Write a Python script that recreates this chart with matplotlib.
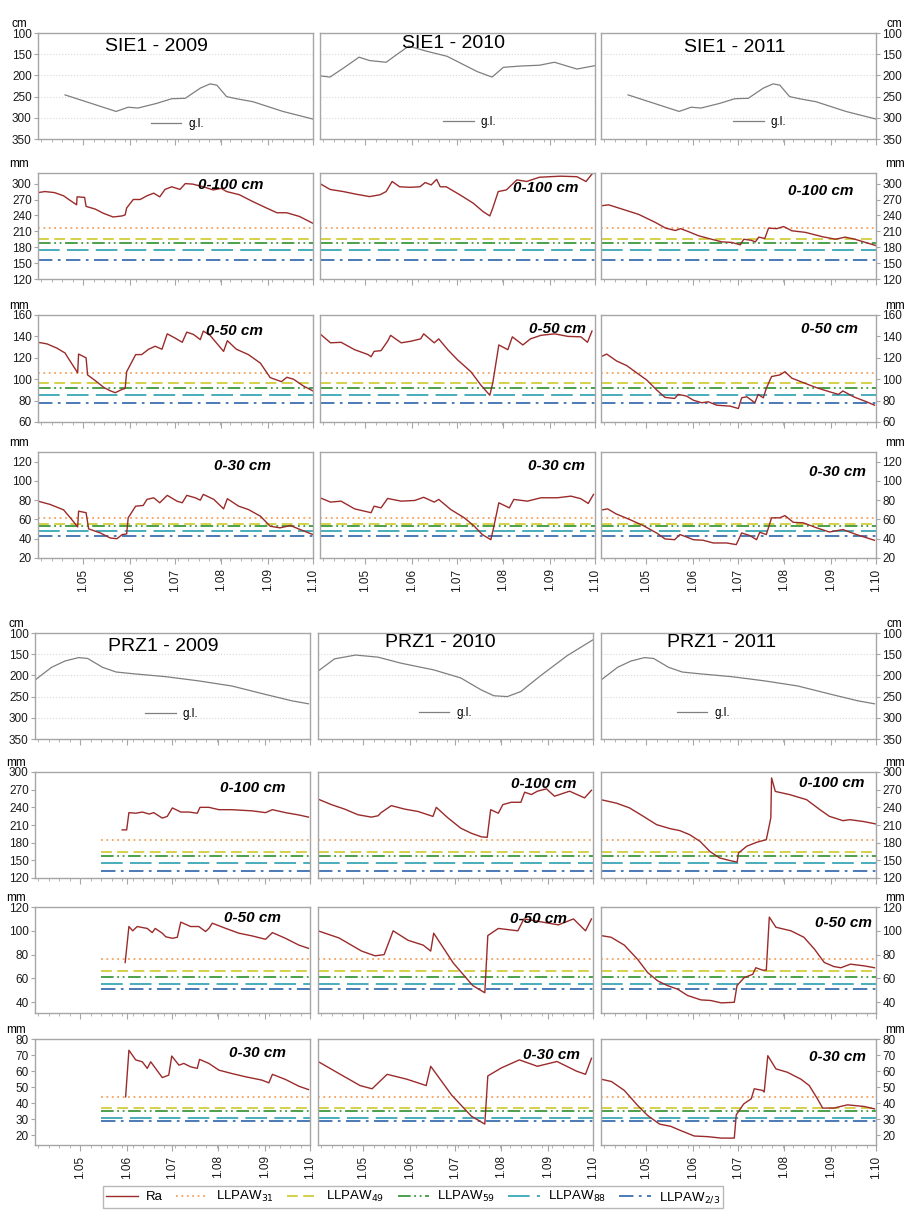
import numpy as np
import matplotlib.pyplot as plt
from matplotlib.lines import Line2D
from matplotlib.ticker import FixedLocator, NullFormatter

plt.rcParams['font.family'] = ['Liberation Sans', 'DejaVu Sans']

# x axis = days counted from 1 April
month_days = [30, 61, 91, 122, 153, 183]
month_labels = ['1.05', '1.06', '1.07', '1.08', '1.09', '1.10']
x_end = 183

# ---------------- ground water level (cm) ----------------
sie_gl_a_day = [18, 52, 60, 66.5, 79, 89, 98, 108, 114.5, 119, 125.5, 132, 143, 163, 183]
sie_gl_a = [246, 285, 275, 277, 266, 255, 254, 230, 220, 223, 250, 255, 262, 285, 303]
sie_gl_2010_day = [0, 6.6, 15.5, 26, 33, 44, 51, 59, 71, 84.6, 95.7, 104.6, 114.5, 122, 133, 146, 156, 171, 183]
sie_gl_2010 = [201, 204, 183, 157, 165, 169, 151, 131, 143, 155, 175, 191, 204, 181, 178, 176, 169, 185, 177]
prz_gl_a_day = [0, 11, 20, 29, 35, 45, 54, 65, 87, 109, 131, 153.5, 171, 182]
prz_gl_a = [211, 181, 166, 158, 160, 181, 192, 196, 203, 213, 225, 245, 260, 267]
prz_gl_2010_day = [0, 11, 25, 40, 55, 77, 95, 108.5, 117, 126, 135, 148, 166, 183]
prz_gl_2010 = [190, 161, 152, 157, 171, 187, 206, 234, 248, 250, 238, 201, 153, 116]

# ---------------- threshold levels (mm): LLPAW31, 49, 59, 88, 2/3 ----------------
thr_sie_100 = [216, 195, 188, 175, 155]
thr_sie_50 = [106, 96, 92, 85, 78]
thr_sie_30 = [62, 55, 53, 48, 43]
thr_prz_100 = [184, 165, 158, 145, 132]
thr_prz_50 = [76, 66, 61, 55, 51]
thr_prz_30 = [44, 37, 35, 31, 29]

# ---------------- Ra (mm) SIE1 ----------------
sie09_100_day = [0, 4.6, 11, 17, 21, 25.7, 26, 31, 32, 38, 43.5, 50, 56, 58, 59, 63.4, 68, 72.5, 77, 81, 84.5, 89,
                 94.5, 98, 103, 110, 116.6, 122, 125.5, 134, 143, 152, 159, 165.5, 174, 183]
sie09_100 = [283, 285, 283, 277, 269, 260, 275, 274, 257, 252, 244, 237, 239, 241, 254, 270, 270, 277, 282, 275, 289, 294,
             289, 300, 299, 294, 288, 291, 285, 279, 266, 254, 245, 245, 238, 225]
sie09_50_day = [0, 6, 12.6, 18, 21.5, 26.4, 27, 32, 33, 39, 43.7, 48, 51.4, 56, 58, 59, 65, 69, 73.6, 78, 82.5, 86, 91,
                96, 99, 103.5, 108, 110, 114.6, 123.5, 126, 132, 140, 148, 154.5, 162, 165.6, 170, 176.7, 183]
sie09_50 = [134.5, 133, 129, 124.5, 116.6, 106, 123.5, 120, 104, 97.7, 92.4, 89.2, 87.4, 90.5, 91.4, 107, 123, 123, 128,
            130.8, 128, 142.4, 138.6, 134.5, 144, 141.8, 137, 145, 140.8, 126, 136, 128, 123, 115, 101.5, 97.7, 101.8,
            100, 93.6, 89]
sie09_30_day = [0, 8, 17, 21.5, 26.4, 27, 32, 33.7, 41.5, 48, 52.5, 56, 59, 60, 65, 70, 72.5, 77, 81, 86, 92.5, 96, 99,
                104.6, 108, 110, 117, 123.5, 126, 133.5, 140, 148, 154.5, 161, 168, 174.5, 183]
sie09_30 = [79, 75.6, 70, 61.7, 52.3, 68.6, 67, 50.2, 46, 40.8, 40, 44.3, 45, 61.7, 73.8, 74.5, 80.8, 82.5, 77.3, 85, 79,
            77.3, 85, 82.5, 80, 86, 80.8, 71, 81.5, 73.8, 70.3, 63.4, 53, 51.3, 53.7, 49.5, 44.3]

sie10_100_day = [0, 6.7, 15.5, 24, 33, 40, 44, 48, 53, 60, 66.5, 70, 74, 77.6, 80, 84, 93, 102, 108.6, 113, 115, 118.6,
                 124, 131, 137.5, 146, 160, 171, 177, 181]
sie10_100 = [300, 289, 285, 280, 275.5, 279, 285, 304, 294, 293, 294, 302, 297.5, 308, 294, 294, 279, 263, 247, 239,
             254, 285, 288, 307, 304, 312, 314, 313, 304, 318]
sie10_50_day = [0, 7, 14, 23, 32, 34, 36, 40.6, 45, 47, 54, 60.5, 67, 69, 76, 79, 85, 91.6, 100.4, 107, 113, 115, 119,
                125, 128, 135, 140, 147, 156, 165, 173.6, 178, 181]
sie10_50 = [142.4, 134, 134.5, 127.6, 123, 121, 126, 126.7, 135.5, 141, 134, 135.5, 137.7, 142.4, 134, 137.7, 127.6,
            118, 107, 94.6, 85, 96.8, 132, 127.6, 139.6, 132, 137.7, 141, 142.4, 140, 139.6, 134.5, 145]
sie10_30_day = [0, 7, 14, 23, 34, 36, 40.6, 45, 54, 63, 69, 76, 79, 87, 96, 102.7, 108, 113.7, 115.5, 119, 126, 129, 138,
                147, 158, 167, 173.6, 178.5, 182]
sie10_30 = [82.5, 78, 79, 71, 67, 73.8, 72, 81.8, 79, 79.7, 83, 78, 80.8, 70.3, 61.7, 53, 44.3, 39, 51.3, 77.3, 72, 80.8,
            79, 82.5, 82.5, 84.2, 81.5, 76.6, 86]

sie11_100_day = [0, 5, 11.7, 25, 36, 43, 49.5, 53, 58, 65, 71.6, 80.5, 87, 92.7, 95, 100, 102.7, 105, 109, 111.5, 117,
                 121.5, 127, 136, 147, 156, 162.5, 169, 183]
sie11_100 = [258, 260, 254, 242, 227, 216, 211.5, 215, 209.6, 201.5, 196.5, 190, 189, 184.5, 195, 193, 190, 199, 196.5,
             216, 215, 219, 211, 208, 200, 195, 199, 195, 183]
sie11_50_day = [0, 3.8, 10.4, 17, 23.7, 30.4, 37, 42.6, 49, 51.4, 57, 61.4, 67, 71.4, 77, 86, 91.4, 93.6, 97, 102.4,
                104.6, 108, 110, 113.5, 119, 122.4, 127, 134.6, 143.5, 152, 158, 161, 168, 176.7, 182]
sie11_50 = [121, 123.5, 117, 112.8, 106, 99.3, 90, 83, 82, 85.8, 84.2, 80.4, 78, 78.9, 75.7, 74.8, 72.6, 82.6, 83.6, 78,
            85.8, 82.6, 91.4, 102.5, 104, 107, 101, 96.8, 92, 88.3, 85.8, 89, 83.6, 78.9, 75.7]
sie11_30_day = [0, 4.4, 10, 19, 28, 37, 42.6, 49, 52.5, 57, 61.4, 68, 74.7, 83.6, 90, 93.6, 99, 103.5, 105.7, 110,
                113.5, 119, 122.4, 128, 134.6, 143.5, 152, 161, 170, 182]
sie11_30 = [69.7, 71, 65.8, 60, 53.7, 46, 39.8, 39, 44.3, 41.8, 39, 38.4, 35.6, 35.6, 33.9, 46, 43.3, 39, 46.7, 44.3,
            61.7, 61.7, 64, 57, 56.5, 51.3, 47, 49.5, 44.3, 38.4]

# ---------------- Ra (mm) PRZ1 ----------------
prz09_100_day = [58, 61, 62.5, 67, 71.4, 76, 79, 84.7, 88, 91.4, 97, 102.4, 108, 109.8, 115.7, 122.4, 131, 144.6,
                 153.4, 158, 166.7, 175.6, 182]
prz09_100 = [201.7, 201.7, 231, 230, 232, 228.6, 231, 221.7, 224.6, 239, 232, 232, 230, 240, 240, 236, 236, 234, 231,
             236, 231, 227, 223.4]
prz09_50_day = [60, 62.5, 65, 68, 74.7, 78, 80, 84.7, 87, 91.4, 94.7, 97, 103.5, 109, 113.5, 115.7, 118, 127, 135.7,
                144.6, 153.4, 158, 166.7, 175.6, 182]
prz09_50 = [73.4, 103.6, 100, 103.6, 102, 98.5, 102, 98, 95, 93.7, 94.6, 107.3, 103.6, 103.6, 99.4, 102, 106.4, 102,
            98, 95.7, 92.9, 98.5, 93.7, 88, 85.3]
prz09_30_day = [60.3, 62.5, 67, 71.4, 74.7, 77, 84.7, 89, 91, 95.8, 99, 103.5, 108, 109.5, 115.7, 122.4, 131, 140, 151,
                155.6, 158, 166.7, 175.6, 182]
prz09_30 = [44, 73, 67, 65.8, 61.7, 65.8, 56, 57.5, 69.4, 63.7, 64.8, 62.7, 61.7, 67.3, 64.8, 60.6, 58.5, 56.5, 54.4,
            52.7, 58, 54.8, 50.6, 48.5]

prz10_100_day = [0, 8.9, 17.7, 26.6, 35.5, 40, 42, 48.8, 57.6, 66.5, 76.5, 78.7, 86.5, 95, 102, 108.6, 112.6, 114.9,
                 120, 123, 128.6, 135, 137.5, 142, 146, 152, 157.4, 167.4, 177.4, 182]
prz10_100 = [254, 244.6, 237, 227.4, 223.4, 225.7, 231, 242.9, 237, 233, 224.6, 240, 222, 204.6, 196, 190, 189, 236,
             230, 244.6, 248.6, 248.6, 265.7, 261.7, 267.4, 271.4, 258.9, 267.4, 256, 269]
prz10_50_day = [0, 14, 29, 38, 44, 50, 60, 70, 75, 77, 90, 103, 111, 113, 120, 133, 137, 160, 170, 178, 182]
prz10_50 = [100, 94, 83, 79, 80, 100, 92, 88, 83, 98, 73, 54, 48, 96, 102, 100, 110, 105, 110, 100, 110]
prz10_30_day = [0, 13, 28, 36, 46, 59, 72, 75, 89, 102, 111, 113, 122, 134, 146, 159, 172, 178, 182]
prz10_30 = [66, 59, 51, 49, 58, 55, 51, 63, 45, 32, 27, 57, 62, 67, 63, 66, 60, 58, 68]

prz11_100_day = [0, 10.4, 19, 28, 37, 46, 52.5, 59, 66, 72.5, 79, 86, 90.6, 91.5, 97, 104, 110, 113, 113.5, 116, 125.7,
                 136.8, 145.7, 152, 161, 165.6, 174.5, 183]
prz11_100 = [253, 247, 239, 225, 210.6, 203.8, 200.4, 193.6, 182, 165, 154, 149.5, 147, 162.5, 174, 181, 185, 222, 290,
             267, 261.5, 253, 236, 224.7, 217.4, 219, 216, 211.7]
prz11_50_day = [0, 6.7, 15.5, 24.4, 31, 37.7, 44.3, 51, 57.6, 66.5, 73, 80, 88.7, 90.5, 95.3, 101, 103, 107.5, 110,
                112, 116.4, 126.4, 135, 142, 148.6, 155, 159.6, 166, 175, 182]
prz11_50 = [96, 94.6, 88, 76, 65, 58, 54, 51, 45.7, 42, 41.5, 39.5, 40, 54, 60.7, 63.5, 69, 67, 67, 111.5, 103, 100,
            94.6, 84.7, 73.4, 70, 69, 72, 70.6, 69]
prz11_30_day = [0, 7, 15.5, 24.4, 31, 39, 46.5, 53, 62, 71, 80, 88.7, 90, 95, 100, 102, 107.5, 108.6, 111, 116.4, 124,
                133, 138.6, 144, 147.5, 155, 164, 175, 182]
prz11_30 = [55, 53.5, 48, 38.6, 32.4, 27, 25.6, 23, 19.6, 19.2, 18.3, 18.3, 32.8, 39.6, 42.8, 49, 48, 47, 69.6, 61.4,
            59.3, 55, 51, 42.8, 37, 37, 39, 38, 36.5]

# ---------------- styles ----------------
ra_color = '#9b2b2b'
gl_color = '#7f7f7f'
frame_color = '#a6a6a6'
thr_names = [r'LLPAW$_{31}$', r'LLPAW$_{49}$', r'LLPAW$_{59}$', r'LLPAW$_{88}$', r'LLPAW$_{2/3}$']
thr_colors = ['#f4a35c', '#d2cd3c', '#3d9a3d', '#3aa7b5', '#3d6fb0']
thr_styles = [(0, (1, 2)), (0, (6, 3)), (0, (7, 2, 1, 2, 1, 2)), (0, (12, 4)), (0, (8, 3, 1.5, 3))]

W, H = 908, 1212
fig = plt.figure(figsize=(W / 100, H / 100), dpi=100)


def add_panel(left, top, bottom, width=275):
    return fig.add_axes([left / W, 1 - bottom / H, width / W, (bottom - top) / H])


def style_axes(ax, col, yticks, ylim, unit, show_x=False):
    for s in ax.spines.values():
        s.set_color(frame_color)
        s.set_linewidth(1)
    ax.set_xlim(0, x_end)
    ax.set_ylim(*ylim)
    ax.xaxis.set_major_locator(FixedLocator(month_days))
    ax.xaxis.set_minor_locator(FixedLocator(list(range(2, x_end, 7))))
    ax.tick_params(axis='x', which='major', length=4, color=frame_color, direction='out')
    ax.tick_params(axis='x', which='minor', length=2.5, color=frame_color, direction='out')
    if show_x:
        ax.set_xticklabels(month_labels, rotation=90, fontsize=8.5, color='#1a1a1a')
    else:
        ax.xaxis.set_major_formatter(NullFormatter())
    ax.yaxis.set_major_locator(FixedLocator(yticks))
    ax.tick_params(axis='y', length=3, color=frame_color, labelsize=8.5, labelcolor='#1a1a1a', pad=1.5)
    if col == 0:
        ax.text(-0.068, 1.025, unit, transform=ax.transAxes, ha='center', va='bottom', fontsize=8.5)
    elif col == 2:
        ax.yaxis.tick_right()
        ax.text(1.068, 1.025, unit, transform=ax.transAxes, ha='center', va='bottom', fontsize=8.5)
    else:
        ax.tick_params(axis='y', left=False, labelleft=False)


def gl_panel(ax, col, day, gl, title, tpos, lpos):
    ax.yaxis.grid(True, linestyle=':', color='#d9d9d9', linewidth=0.8)
    line, = ax.plot(day, gl, color=gl_color, linewidth=0.9)
    style_axes(ax, col, [100, 150, 200, 250, 300, 350], (350, 100), 'cm')
    ax.text(tpos[0], tpos[1], title, transform=ax.transAxes, ha='center', va='center', fontsize=14)
    ax.legend([line], ['g.l.'], loc='center left', bbox_to_anchor=lpos, frameon=False,
              fontsize=8.5, handlelength=2.6, borderpad=0, borderaxespad=0, handletextpad=0.6)


def ra_panel(ax, col, day, ra, thr, label, lpos, yticks, ylim, thr_start=0, show_x=False):
    for k in range(5):
        ax.plot([thr_start, x_end], [thr[k], thr[k]], color=thr_colors[k], linestyle=thr_styles[k], linewidth=1.3)
    ax.plot(day, ra, color=ra_color, linewidth=1.0)
    style_axes(ax, col, yticks, ylim, 'mm', show_x)
    ax.text(lpos[0], lpos[1], label, transform=ax.transAxes, ha='center', va='center',
            fontsize=11, fontweight='bold', fontstyle='italic')


# ---------------- SIE1 block ----------------
lefts = [38, 320, 601]
gl_rows = [(sie_gl_a_day, sie_gl_a), (sie_gl_2010_day, sie_gl_2010), (sie_gl_a_day, sie_gl_a)]
titles = ['SIE1 - 2009', 'SIE1 - 2010', 'SIE1 - 2011']
tpos = [(0.43, 0.87), (0.487, 0.905), (0.487, 0.86)]
lpos = [(0.41, 0.14), (0.447, 0.16), (0.48, 0.16)]
for c in range(3):
    ax = add_panel(lefts[c], 33, 139)
    gl_panel(ax, c, gl_rows[c][0], gl_rows[c][1], titles[c], tpos[c], lpos[c])

sie_100 = [(sie09_100_day, sie09_100), (sie10_100_day, sie10_100), (sie11_100_day, sie11_100)]
sie_50 = [(sie09_50_day, sie09_50), (sie10_50_day, sie10_50), (sie11_50_day, sie11_50)]
sie_30 = [(sie09_30_day, sie09_30), (sie10_30_day, sie10_30), (sie11_30_day, sie11_30)]
p100 = [(0.70, 0.89), (0.82, 0.86), (0.80, 0.83)]
p50 = [(0.715, 0.85), (0.865, 0.87), (0.83, 0.87)]
p30 = [(0.745, 0.87), (0.86, 0.87), (0.86, 0.81)]
for c in range(3):
    ax = add_panel(lefts[c], 173, 279)
    ra_panel(ax, c, sie_100[c][0], sie_100[c][1], thr_sie_100, '0-100 cm', p100[c],
             [120, 150, 180, 210, 240, 270, 300], (120, 320))
    ax = add_panel(lefts[c], 315, 422)
    ra_panel(ax, c, sie_50[c][0], sie_50[c][1], thr_sie_50, '0-50 cm', p50[c],
             [60, 80, 100, 120, 140, 160], (60, 160))
    ax = add_panel(lefts[c], 452, 558)
    ra_panel(ax, c, sie_30[c][0], sie_30[c][1], thr_sie_30, '0-30 cm', p30[c],
             [20, 40, 60, 80, 100, 120], (20, 130), show_x=True)

# ---------------- PRZ1 block ----------------
lefts = [35, 318, 601]
gl_rows = [(prz_gl_a_day, prz_gl_a), (prz_gl_2010_day, prz_gl_2010), (prz_gl_a_day, prz_gl_a)]
titles = ['PRZ1 - 2009', 'PRZ1 - 2010', 'PRZ1 - 2011']
tpos = [(0.467, 0.877), (0.446, 0.906), (0.44, 0.906)]
lpos = [(0.40, 0.236), (0.366, 0.245), (0.275, 0.245)]
for c in range(3):
    ax = add_panel(lefts[c], 633, 739)
    gl_panel(ax, c, gl_rows[c][0], gl_rows[c][1], titles[c], tpos[c], lpos[c])

prz_100 = [(prz09_100_day, prz09_100), (prz10_100_day, prz10_100), (prz11_100_day, prz11_100)]
prz_50 = [(prz09_50_day, prz09_50), (prz10_50_day, prz10_50), (prz11_50_day, prz11_50)]
prz_30 = [(prz09_30_day, prz09_30), (prz10_30_day, prz10_30), (prz11_30_day, prz11_30)]
thr_first = [44, 0, 0]
p100 = [(0.79, 0.85), (0.82, 0.89), (0.84, 0.90)]
p50 = [(0.79, 0.90), (0.80, 0.89), (0.88, 0.85)]
p30 = [(0.81, 0.87), (0.85, 0.85), (0.86, 0.83)]
for c in range(3):
    ax = add_panel(lefts[c], 772, 878)
    ra_panel(ax, c, prz_100[c][0], prz_100[c][1], thr_prz_100, '0-100 cm', p100[c],
             [120, 150, 180, 210, 240, 270, 300], (120, 300), thr_first[c])
    ax = add_panel(lefts[c], 907, 1013)
    ra_panel(ax, c, prz_50[c][0], prz_50[c][1], thr_prz_50, '0-50 cm', p50[c],
             [40, 60, 80, 100, 120], (31, 120), thr_first[c])
    ax = add_panel(lefts[c], 1039, 1145)
    ra_panel(ax, c, prz_30[c][0], prz_30[c][1], thr_prz_30, '0-30 cm', p30[c],
             [20, 30, 40, 50, 60, 70, 80], (14, 80), thr_first[c], show_x=True)

# ---------------- common legend ----------------
handles = [Line2D([], [], color=ra_color, linewidth=1.0)]
for k in range(5):
    handles.append(Line2D([], [], color=thr_colors[k], linestyle=thr_styles[k], linewidth=1.3))
leg = fig.legend(handles, ['Ra'] + thr_names, loc='upper left', bbox_to_anchor=(103 / W, 1 - 1186 / H),
                 ncol=6, fontsize=9.5, frameon=True, fancybox=False, handlelength=2.4,
                 columnspacing=1.0, handletextpad=0.6, borderpad=0.25, borderaxespad=0)
leg.get_frame().set_edgecolor(frame_color)
leg.get_frame().set_linewidth(1)

fig.savefig('out.png', dpi=100)
